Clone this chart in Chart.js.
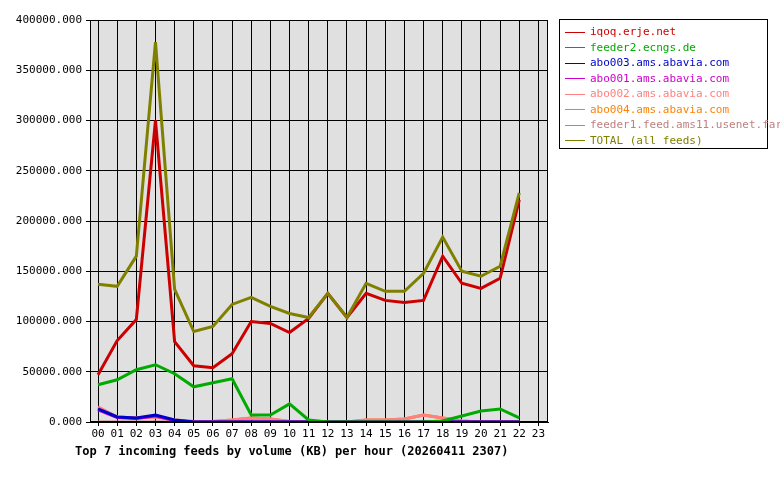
<!DOCTYPE html>
<html><head><meta charset="utf-8">
<script src="https://cdn.jsdelivr.net/npm/chart.js@4"></script>
<style>
body{margin:0;background:#fff;font-family:"DejaVu Sans Mono",monospace;}
#wrap{position:relative;width:780px;height:480px;}
#legend{position:absolute;left:559px;top:19px;width:209px;height:130px;border:1px solid #000;font-size:11px;box-sizing:border-box;padding-top:4px;}
#legend div{height:15.5px;line-height:15.5px;padding-left:5px;white-space:nowrap;}
#legend span.l{display:inline-block;width:20px;height:1px;vertical-align:middle;margin-right:5px;position:relative;}
#title{position:absolute;left:75px;top:444px;font-size:12px;font-weight:bold;}
</style></head><body>
<div id="wrap"><canvas id="c" width="780" height="480"></canvas><div id="legend"></div><div id="title">Top 7 incoming feeds by volume (KB) per hour (20260411 2307)</div></div>
<script>
const hours=["00","01","02","03","04","05","06","07","08","09","10","11","12","13","14","15","16","17","18","19","20","21","22","23"];
const yTicks=[0,50000,100000,150000,200000,250000,300000,350000,400000];
const names=["iqoq.erje.net","feeder2.ecngs.de","abo003.ams.abavia.com","abo001.ams.abavia.com","abo002.ams.abavia.com","abo004.ams.abavia.com","feeder1.feed.ams11.usenet.farm","TOTAL (all feeds)"];
const colors=["#cc0000","#00aa00","#0000cc","#cc00cc","#ff8080","#ff8000","#c08080","#808000"];
const iqoq=[47000,81000,102000,300000,80000,56000,54000,68000,100000,98000,89000,103000,128000,104000,128000,121000,119000,121000,165000,138000,133000,143000,221000,null];
const feeder2=[37000,42000,52000,57000,48000,35000,39000,43000,7000,7000,18000,2000,0,0,0,0,0,0,1000,6000,11000,13000,4000,null];
const abo003=[13000,5000,4000,7000,2000,0,0,0,0,0,0,0,0,0,0,0,0,0,0,0,0,0,0,null];
const abo001=[12000,4500,3500,6000,1500,0,0,0,0,0,0,0,0,0,0,0,0,0,0,0,0,0,0,null];
const abo002=[15000,5000,4000,5000,2000,500,500,2000,4000,3000,500,0,0,0,2000,2000,3000,7000,4000,1000,0,0,0,null];
const abo004=[14000,5000,4000,5500,2000,500,500,2000,4000,3000,500,0,0,0,2000,2000,3000,7000,4000,1000,0,0,0,null];
const feeder1=[0,0,0,0,0,0,0,0,0,0,0,0,0,0,0,0,0,0,0,0,0,0,0,null];
const total=[137000,135000,165000,378000,132000,90000,95000,117000,124000,115000,108000,104000,128000,104000,138000,130000,130000,148000,184000,150000,145000,155000,228000,null];
const series=[iqoq,feeder2,abo003,abo001,abo002,abo004,feeder1,total];
const lg=document.getElementById('legend');
names.forEach((n,i)=>{const d=document.createElement('div');d.style.color=colors[i];d.innerHTML='<span class="l" style="background:'+colors[i]+'"></span>'+n;lg.appendChild(d);});
const order=[7,1,2,3,4,5,6,0];
const datasets=order.map(i=>({label:names[i],data:series[i].map((v,k)=>({x:k,y:v})),borderColor:colors[i],borderWidth:3,pointRadius:0,fill:false,tension:0,spanGaps:false}));
const bg={id:'bg',beforeDraw(ch){const a=ch.chartArea,c=ch.ctx;c.save();c.fillStyle='#e0e0e0';c.fillRect(a.left,a.top,a.right-a.left,a.bottom-a.top);c.restore();},
afterDraw(ch){const a=ch.chartArea,c=ch.ctx;c.save();c.strokeStyle='#000';c.lineWidth=1;c.strokeRect(a.left+0.5,a.top+0.5,a.right-a.left-1,a.bottom-a.top-1);c.restore();}};
new Chart(document.getElementById('c'),{type:'line',data:{datasets},plugins:[bg],
options:{responsive:false,animation:false,layout:{padding:{top:20,right:232,left:0,bottom:0}},
plugins:{legend:{display:false},tooltip:{enabled:false}},
scales:{
x:{type:'linear',min:-0.42,max:23.5,afterFit(s){s.height=58;},afterBuildTicks(s){s.ticks=hours.map((h,i)=>({value:i}));},
ticks:{autoSkip:false,maxRotation:0,color:'#000',font:{family:'DejaVu Sans Mono',size:11},callback:(v)=>hours[v],padding:2},
grid:{color:'#000',lineWidth:1,drawTicks:true,tickLength:4},border:{color:'#000'}},
y:{min:0,max:400000,afterFit(s){s.width=90;},afterBuildTicks(s){s.ticks=yTicks.map(v=>({value:v}));},
ticks:{color:'#000',font:{family:'DejaVu Sans Mono',size:11},callback:(v)=>v.toFixed(3),padding:4},
grid:{color:'#000',lineWidth:1,tickLength:4},border:{color:'#000'}}}}});
</script></body></html>
